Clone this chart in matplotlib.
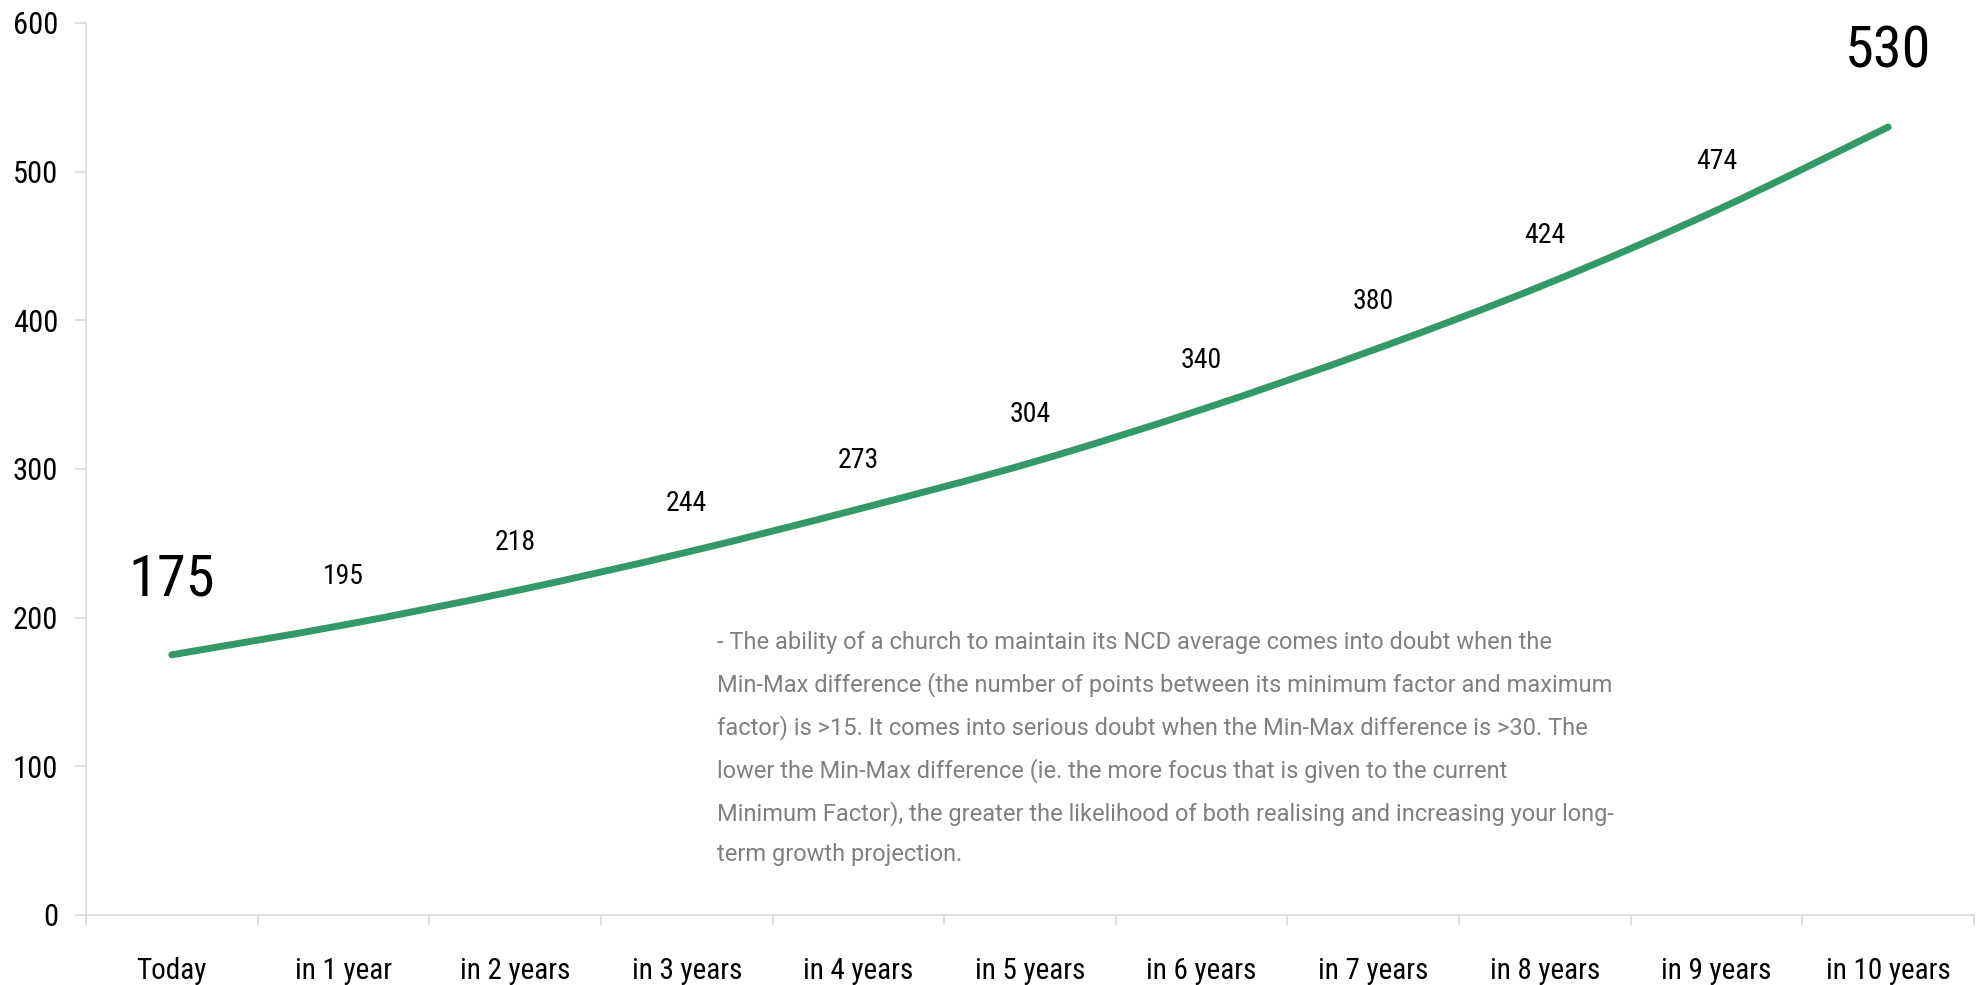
import matplotlib
matplotlib.use("Agg")
import matplotlib.pyplot as plt
from matplotlib.path import Path
from matplotlib.patches import PathPatch

categories = ["Today", "in 1 year", "in 2 years", "in 3 years", "in 4 years",
              "in 5 years", "in 6 years", "in 7 years", "in 8 years",
              "in 9 years", "in 10 years"]
values = [175, 195, 218, 244, 273, 304, 340, 380, 424, 474, 530]
y_ticks = [0, 100, 200, 300, 400, 500, 600]

note = ("- The ability of a church to maintain its NCD average comes into doubt when the\n"
        "Min-Max difference (the number of points between its minimum factor and maximum\n"
        "factor) is >15. It comes into serious doubt when the Min-Max difference is >30. The\n"
        "lower the Min-Max difference (ie. the more focus that is given to the current\n"
        "Minimum Factor), the greater the likelihood of both realising and increasing your long-\n"
        "term growth projection.")

plt.rcParams['font.family'] = ['Roboto Condensed', 'DejaVu Sans']


def smooth_path(xs, ys):
    # excel-like smoothed line: catmull-rom segments as cubic beziers
    pts = list(zip(xs, ys))
    verts = [pts[0]]
    codes = [Path.MOVETO]
    n = len(pts)
    for i in range(n - 1):
        p0 = pts[max(i - 1, 0)]
        p1 = pts[i]
        p2 = pts[i + 1]
        p3 = pts[min(i + 2, n - 1)]
        c1 = (p1[0] + (p2[0] - p0[0]) / 6, p1[1] + (p2[1] - p0[1]) / 6)
        c2 = (p2[0] - (p3[0] - p1[0]) / 6, p2[1] - (p3[1] - p1[1]) / 6)
        verts += [c1, c2, p2]
        codes += [Path.CURVE4] * 3
    return Path(verts, codes)


def main():
    fig = plt.figure(figsize=(19.79, 9.85), dpi=100)
    ax = fig.add_axes([0.04346, 0.0711, 0.954, 0.9056])

    x = list(range(len(categories)))
    ax.add_patch(PathPatch(smooth_path(x, values), facecolor="none",
                           edgecolor="#339966", linewidth=5, capstyle="round"))

    # value labels, first and last are big
    for i, v in enumerate(values):
        if i == 0 or i == len(values) - 1:
            ax.annotate(str(v), (i, v), xytext=(0, 54), textcoords="offset points",
                        ha="center", va="center", fontsize=42)
        else:
            ax.annotate(str(v), (i, v), xytext=(0, 35), textcoords="offset points",
                        ha="center", va="center", fontsize=20)

    ax.set_xlim(-0.5, len(categories) - 0.5)
    ax.set_ylim(0, 600)
    ax.set_yticks(y_ticks)
    ax.set_yticklabels([str(t) for t in y_ticks], fontsize=22)
    ax.set_xticks(x)
    ax.set_xticklabels(categories, fontsize=21)
    ax.set_xticks([i - 0.5 for i in range(len(categories) + 1)], minor=True)
    ax.tick_params(axis="x", which="major", length=0, pad=30)
    ax.tick_params(axis="x", which="minor", length=7, color="#d9d9d9", width=1.2)
    ax.tick_params(axis="y", length=8, color="#d9d9d9", width=1.2, pad=12)

    for s in ["top", "right"]:
        ax.spines[s].set_visible(False)
    for s in ["left", "bottom"]:
        ax.spines[s].set_color("#d9d9d9")
        ax.spines[s].set_linewidth(1.2)

    ax.text(0.334, 0.318, note, transform=ax.transAxes, fontsize=17,
            family=["Roboto", "DejaVu Sans"], color="#808080",
            ha="left", va="top", linespacing=1.93)

    fig.savefig("out.png", dpi=100)


if __name__ == '__main__':
    main()
